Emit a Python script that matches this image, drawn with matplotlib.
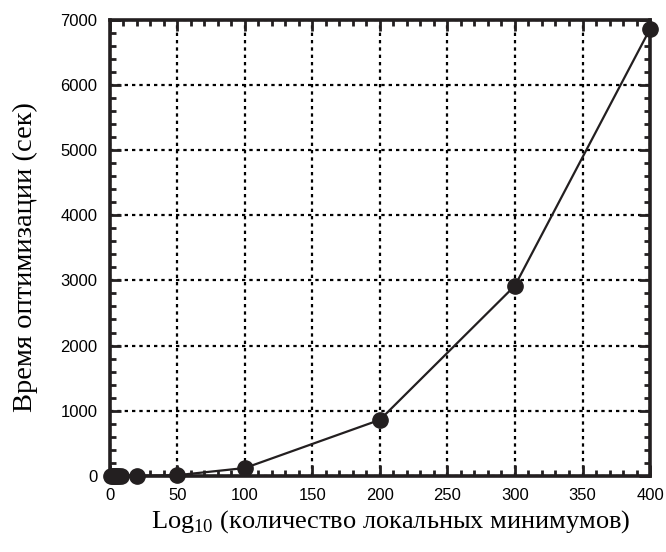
import numpy as np
import matplotlib.pyplot as plt
from matplotlib.ticker import MultipleLocator

# data
n_minima = [1, 2, 3, 4, 5, 6, 8, 20, 50, 100, 200, 300, 400]
opt_time = [0, 0, 0, 0, 0, 0, 0, 0, 10, 120, 860, 2920, 6860]

xticks = [0, 50, 100, 150, 200, 250, 300, 350, 400]
yticks = [0, 1000, 2000, 3000, 4000, 5000, 6000, 7000]

plt.rcParams['mathtext.fontset'] = 'custom'
plt.rcParams['mathtext.rm'] = 'Liberation Serif'

fig = plt.figure(figsize=(6.66, 5.52), dpi=100)
ax = fig.add_axes([0.165, 0.138, 0.811, 0.826])

ax.plot(n_minima, opt_time, color='#231f20', lw=1.6, marker='o',
        markersize=11, markerfacecolor='#231f20', markeredgecolor='#231f20',
        clip_on=False, zorder=5)

ax.set_xlim(0, 400)
ax.set_ylim(0, 7000)
ax.set_xticks(xticks)
ax.set_yticks(yticks)
ax.xaxis.set_minor_locator(MultipleLocator(10))
ax.yaxis.set_minor_locator(MultipleLocator(200))

ax.grid(True, which='major', color='black', linestyle=(0, (1.5, 1.8)), lw=1.6)
for s in ax.spines.values():
    s.set_linewidth(2.6)
    s.set_color('#231f20')

ax.tick_params(which='both', direction='in', top=True, right=True,
               color='#231f20', width=2)
ax.tick_params(which='major', length=8, labelsize=12, pad=9)
ax.tick_params(which='minor', length=4.5)
for lab in ax.get_xticklabels() + ax.get_yticklabels():
    lab.set_family('Liberation Sans')

ax.set_xlabel(r'Log$_{\mathregular{10}}$ (количество локальных минимумов)',
              family='Liberation Serif', fontsize=19)
ax.xaxis.set_label_coords(0.52, -0.07)
ax.set_ylabel('Время оптимизации (сек)', family='Liberation Serif',
              fontsize=20.5)
ax.yaxis.set_label_coords(-0.133, 0.48)

fig.savefig('out.png', dpi=100)
